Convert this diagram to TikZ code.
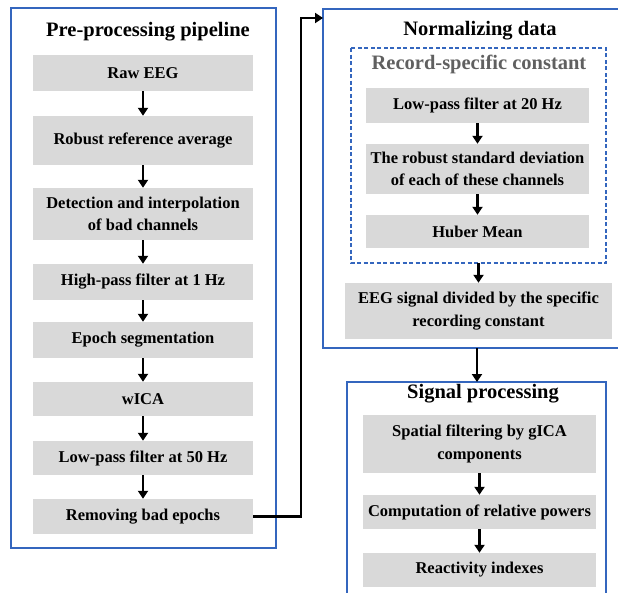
\documentclass[tikz,border=0pt]{standalone}
\usepackage{fontspec}
\setmainfont{Liberation Serif}
\usetikzlibrary{arrows.meta}
\definecolor{frameblue}{RGB}{52,102,190}
\definecolor{boxgray}{RGB}{217,217,217}
\definecolor{subgray}{RGB}{96,96,96}
\tikzset{
  frame/.style={draw=frameblue, line width=1.5pt},
  dframe/.style={draw=frameblue, line width=1.3pt, dash pattern=on 4pt off 2.5pt},
  gbox/.style={fill=boxgray, inner sep=0pt, align=center, text=black,
    font=\bfseries\fontsize{16.5}{22.5}\selectfont},
  ttl/.style={inner sep=0pt, font=\bfseries\fontsize{20.5}{24}\selectfont},
  arr/.style={line width=2.5pt, -{Triangle[width=10pt,length=8pt]}},
  conn/.style={line width=2.5pt, -{Triangle[width=10pt,length=8pt]}}
}
\begin{document}
\begin{tikzpicture}[x=1pt,y=-1pt]
\useasboundingbox (0,0) rectangle (618,592);
\begin{scope}
\clip (0,0) rectangle (618,592);
% left frame
\draw[frame] (11,8) rectangle (276,548);
\node[ttl] (t1) at (148,32) {Pre-processing pipeline};
\node[gbox, minimum width=220pt, minimum height=36pt] (b1) at (143,73) {Raw EEG};
\node[gbox, minimum width=220pt, minimum height=49pt] (b2) at (143,140.5) {Robust reference average};
\node[gbox, minimum width=220pt, minimum height=52pt] (b3) at (143,214) {Detection and interpolation\\of bad channels};
\node[gbox, minimum width=220pt, minimum height=36pt] (b4) at (143,282) {High-pass filter at 1 Hz};
\node[gbox, minimum width=220pt, minimum height=36pt] (b5) at (143,340) {Epoch segmentation};
\node[gbox, minimum width=220pt, minimum height=34pt] (b6) at (143,399) {wICA};
\node[gbox, minimum width=220pt, minimum height=34pt] (b7) at (143,458) {Low-pass filter at 50 Hz};
\node[gbox, minimum width=220pt, minimum height=35pt] (b8) at (143,516.5) {Removing bad epochs};
\foreach \a/\b in {b1/b2,b2/b3,b3/b4,b4/b5,b5/b6,b6/b7,b7/b8}
  \draw[arr] (\a.south) -- (\b.north);
% normalizing frame
\draw[frame] (323,9) rectangle (630,348);
\coordinate (nf) at (323,18);
\node[ttl] (t2) at (480,31) {Normalizing data};
\draw[dframe] (351,48) rectangle (606,263);
\coordinate (dtop) at (478.5,263);
\node[ttl, text=subgray] (t3) at (479,64) {Record-specific constant};
\node[gbox, minimum width=223pt, minimum height=35pt] (n1) at (477.5,105.5) {Low-pass filter at 20 Hz};
\node[gbox, minimum width=223pt, minimum height=50pt] (n2) at (477.5,169) {The robust standard deviation\\of each of these channels};
\node[gbox, minimum width=223pt, minimum height=33pt] (n3) at (477.5,231.5) {Huber Mean};
\node[gbox, minimum width=267pt, minimum height=56pt] (n4) at (478.5,311) {EEG signal divided by the specific\\recording constant};
\draw[arr] (n1.south) -- (n2.north);
\draw[arr] (n2.south) -- (n3.north);
\draw[arr] (dtop) -- (n4.north);
% signal processing frame
\draw[frame] (347,382) rectangle (606,600);
\coordinate (nbot) at (477,348);
\coordinate (stop) at (477,382);
\node[ttl] (t4) at (483,394) {Signal processing};
\node[gbox, minimum width=233pt, minimum height=58pt] (s1) at (479.5,444) {Spatial filtering by gICA\\components};
\node[gbox, minimum width=233pt, minimum height=34pt] (s2) at (479.5,512) {Computation of relative powers};
\node[gbox, minimum width=233pt, minimum height=34pt] (s3) at (479.5,570) {Reactivity indexes};
\draw[arr] (s1.south) -- (s2.north);
\draw[arr] (s2.south) -- (s3.north);
\draw[arr] (nbot) -- (stop);
% connector
\draw[conn] (b8.east) -| (301,18) -- (nf);
\end{scope}
\end{tikzpicture}
\end{document}
